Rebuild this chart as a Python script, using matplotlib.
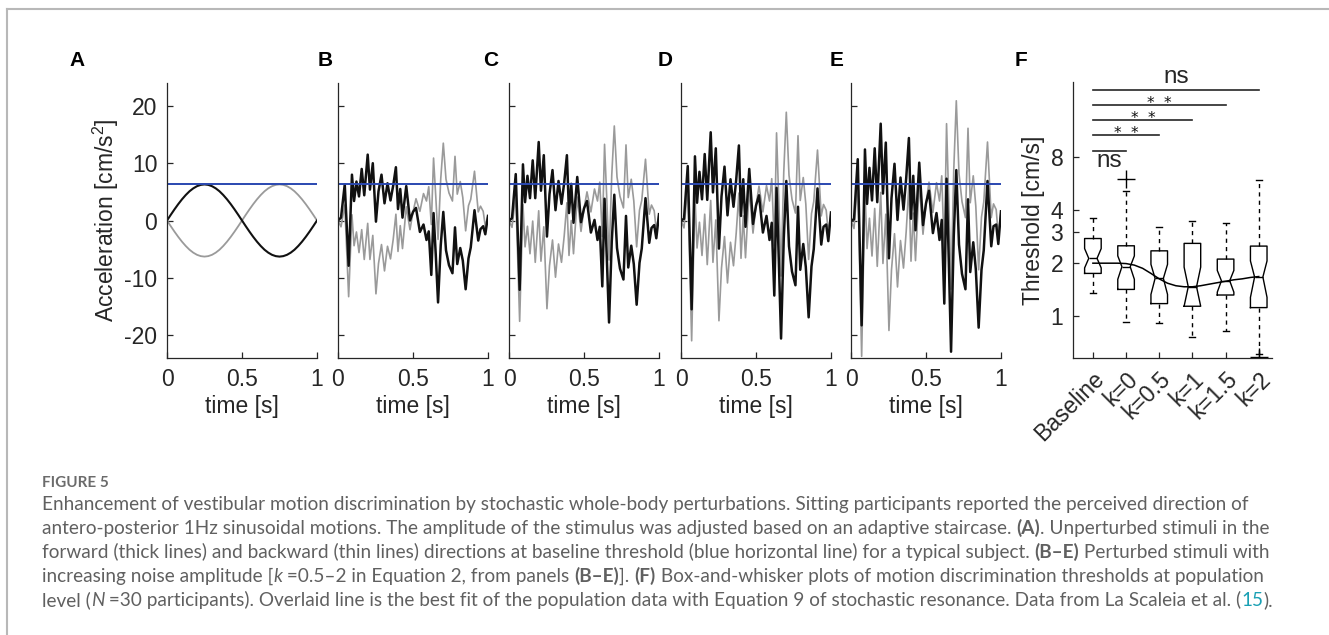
import numpy as np
import matplotlib
matplotlib.use('Agg')
import matplotlib.pyplot as plt
from matplotlib.lines import Line2D
from matplotlib.ticker import NullLocator

plt.rcParams['font.family'] = ['Liberation Sans', 'DejaVu Sans']
plt.rcParams['mathtext.fontset'] = 'custom'
plt.rcParams['mathtext.rm'] = 'Liberation Sans'
plt.rcParams['mathtext.default'] = 'regular'
plt.rcParams['axes.unicode_minus'] = False

# ---- data ----
threshold = 6.3

t_sine = np.linspace(0, 1, 41)
sine_fwd = [0, 0.99, 1.95, 2.86, 3.70, 4.45, 5.10, 5.61, 5.99, 6.22, 6.30, 6.22, 5.99, 5.61, 5.10, 4.45,
            3.70, 2.86, 1.95, 0.99, 0, -0.99, -1.95, -2.86, -3.70, -4.45, -5.10, -5.61, -5.99, -6.22,
            -6.30, -6.22, -5.99, -5.61, -5.10, -4.45, -3.70, -2.86, -1.95, -0.99, 0]
sine_bwd = [0, -0.99, -1.95, -2.86, -3.70, -4.45, -5.10, -5.61, -5.99, -6.22, -6.30, -6.22, -5.99, -5.61,
            -5.10, -4.45, -3.70, -2.86, -1.95, -0.99, 0, 0.99, 1.95, 2.86, 3.70, 4.45, 5.10, 5.61, 5.99,
            6.22, 6.30, 6.22, 5.99, 5.61, 5.10, 4.45, 3.70, 2.86, 1.95, 0.99, 0]

t_noise = [0, 0.02, 0.045, 0.071, 0.093, 0.107, 0.123, 0.14, 0.158, 0.175, 0.198, 0.213, 0.232, 0.253,
           0.27, 0.29, 0.31, 0.33, 0.35, 0.368, 0.386, 0.4, 0.415, 0.43, 0.455, 0.48, 0.5, 0.52, 0.546,
           0.57, 0.59, 0.605, 0.622, 0.637, 0.652, 0.667, 0.685, 0.702, 0.72, 0.74, 0.763, 0.78, 0.795,
           0.815, 0.832, 0.851, 0.87, 0.885, 0.91, 0.935, 0.95, 0.968, 0.982, 1.0]

fwd_B = [0, 0.5, 6.3, -7.9, 8.0, 3.4, 6.8, 4.2, 9.0, 4.4, 11.5, 5.4, 10.0, -0.2, 5.1, 8.0, 3.0, 6.5, 3.5,
         6.1, 9.3, 2.0, 5.5, 0.5, 6.0, 0.0, 1.5, 2.2, -2.0, -0.7, -3.4, -1.9, -9.5, 1.3, -6.1, -14.3, -4.3,
         1.5, -5.2, -7.8, -9.2, -1.2, -7.6, -4.8, -7.0, -12.0, -6.6, -4.7, 1.8, -3.5, -1.5, -1.0, -2.4, 0.8]
bwd_B = [0, -1.1, 2.7, -13.3, 1.0, -4.4, -2.0, -5.6, -1.6, -6.8, -0.5, -6.8, -2.6, -12.8, -7.5, -4.2, -8.8,
         -4.5, -6.7, -3.3, 1.1, -5.4, -0.9, -4.9, 2.4, -1.6, 1.5, 3.8, 1.6, 4.7, 3.4, 5.9, -0.7, 10.9, 4.1,
         -3.3, 7.3, 13.5, 7.2, 4.8, 3.4, 11.2, 4.6, 6.8, 4.0, -1.8, 2.6, 3.7, 8.6, 1.5, 2.5, 1.6, -1.0, 0.8]
fwd_C = [0, 0.4, 8.1, -12.1, 9.8, 3.2, 7.8, 3.9, 10.5, 3.9, 13.7, 5.2, 11.4, -2.8, 4.6, 8.8, 1.8, 6.9, 2.9,
         6.6, 11.4, 1.3, 6.4, -0.4, 7.6, -0.3, 2.1, 3.4, -2.1, 0.1, -3.4, -1.1, -11.5, 3.8, -6.5, -17.8,
         -3.7, 4.5, -4.8, -8.4, -10.3, 0.8, -8.2, -4.4, -7.6, -14.7, -7.4, -4.9, 3.9, -3.9, -1.3, -0.8, -3.1, 1.1]
bwd_C = [0, -1.2, 4.5, -17.6, 2.8, -4.6, -1.0, -5.8, -0.1, -7.3, 1.7, -7.1, -1.1, -15.4, -7.9, -3.4, -9.9,
         -4.1, -7.3, -2.7, 3.1, -6.1, 0.0, -5.8, 4.1, -1.9, 2.1, 5.0, 1.5, 5.5, 3.4, 6.7, -2.8, 13.3, 3.7,
         -6.9, 7.9, 16.5, 7.6, 4.2, 2.2, 13.2, 4.0, 7.2, 3.4, -4.6, 1.8, 3.5, 10.7, 1.1, 2.7, 1.7, -1.7, 1.1]
fwd_D = [0, 0.3, 9.5, -15.5, 11.2, 3.1, 8.5, 3.7, 11.6, 3.6, 15.4, 4.9, 12.6, -4.9, 4.2, 9.4, 0.9, 7.2, 2.4,
         7.1, 13.1, 0.8, 7.2, -1.1, 9.0, -0.6, 2.6, 4.4, -2.1, 0.8, -3.4, -0.4, -13.1, 5.7, -6.9, -20.6,
         -3.2, 6.9, -4.5, -8.9, -11.3, 2.4, -8.6, -4.1, -8.1, -16.9, -8.0, -5.0, 5.6, -4.2, -1.1, -0.7, -3.6, 1.4]
bwd_D = [0, -1.3, 6.0, -21.0, 4.3, -4.8, -0.3, -6.1, 1.1, -7.7, 3.5, -7.3, 0.1, -17.5, -8.3, -2.8, -10.9,
         -3.8, -7.9, -2.2, 4.8, -6.6, 0.8, -6.5, 5.5, -2.2, 2.6, 6.0, 1.5, 6.1, 3.4, 7.3, -4.4, 15.3, 3.4,
         -9.7, 8.4, 18.9, 7.9, 3.7, 1.3, 14.8, 3.5, 7.5, 2.9, -6.8, 1.2, 3.3, 12.3, 0.8, 2.8, 1.8, -2.2, 1.4]
fwd_E = [0, 0.2, 10.7, -18.3, 12.4, 2.9, 9.2, 3.5, 12.6, 3.2, 16.9, 4.7, 13.6, -6.6, 3.9, 9.9, 0.1, 7.5, 1.9,
         7.4, 14.4, 0.3, 7.8, -1.7, 10.1, -0.8, 3.0, 5.2, -2.2, 1.3, -3.4, 0.1, -14.5, 7.3, -7.1, -22.9,
         -2.8, 8.8, -4.2, -9.3, -12.0, 3.7, -9.0, -3.8, -8.5, -18.7, -8.6, -5.2, 6.9, -4.5, -1.0, -0.7, -4.1, 1.6]
bwd_E = [0, -1.4, 7.2, -23.7, 5.4, -4.9, 0.4, -6.2, 2.1, -8.0, 4.9, -7.5, 1.1, -19.2, -8.6, -2.3, -11.6,
         -3.5, -8.3, -1.9, 6.2, -7.1, 1.3, -7.0, 6.6, -2.4, 3.0, 6.7, 1.4, 6.6, 3.4, 7.8, -5.7, 16.9, 3.2,
         -12.0, 8.8, 20.9, 8.2, 3.3, 0.5, 16.1, 3.1, 7.8, 2.5, -8.6, 0.6, 3.2, 13.7, 0.5, 2.9, 1.9, -2.7, 1.6]

groups = ['Baseline', 'k=0', 'k=0.5', 'k=1', 'k=1.5', 'k=2']
q1 = [1.75, 1.42, 1.18, 1.14, 1.32, 1.12]
med = [2.13, 1.91, 1.64, 1.47, 1.59, 1.67]
q3 = [2.76, 2.51, 2.35, 2.59, 2.11, 2.50]
whis_lo = [1.35, 0.93, 0.92, 0.76, 0.82, 0.61]
whis_hi = [3.59, 5.15, 3.21, 3.46, 3.39, 5.92]
notch_lo = [1.88, 1.62, 1.33, 1.14, 1.37, 1.28]
notch_hi = [2.42, 2.20, 1.97, 1.90, 1.82, 2.06]
outliers = [[], [6.0], [], [], [], [0.59]]

fit_x = [1.0, 1.25, 1.5, 1.75, 2.0, 2.25, 2.5, 2.75, 3.0, 3.25, 3.5, 3.75, 4.0, 4.25, 4.5, 4.75, 5.0,
         5.25, 5.5, 5.75, 6.0]
fit_y = [2.0, 2.0, 2.0, 2.0, 1.99, 1.95, 1.87, 1.75, 1.63, 1.54, 1.49, 1.47, 1.47, 1.49, 1.52, 1.55,
         1.58, 1.61, 1.63, 1.66, 1.68]

sig_end = [2, 3, 4, 5, 6]
sig_y = [8.7, 10.6, 12.9, 15.7, 19.2]
sig_text = ['ns', '**', '**', '**', 'ns']

# ---- figure ----
W, H = 1329, 635
fig = plt.figure(figsize=(W / 100, H / 100), dpi=100)


def rect(l, t, r, b):
    return [l / W, 1 - b / H, (r - l) / W, (b - t) / H]


dark = '#262626'
fs = 16.5


def style(ax):
    for s in ['top', 'right']:
        ax.spines[s].set_visible(False)
    for s in ['left', 'bottom']:
        ax.spines[s].set_color(dark)
        ax.spines[s].set_linewidth(0.9)
    ax.tick_params(direction='in', length=4, width=0.9, colors=dark, labelsize=fs, pad=7)


lefts = [167, 338, 509, 681, 851]
fwd = [sine_fwd, fwd_B, fwd_C, fwd_D, fwd_E]
bwd = [sine_bwd, bwd_B, bwd_C, bwd_D, bwd_E]
for i in range(5):
    ax = fig.add_axes(rect(lefts[i], 83, lefts[i] + 150, 358))
    style(ax)
    tt = t_sine if i == 0 else t_noise
    if i == 0:
        ax.plot(tt, bwd[i], color='#9a9a9a', lw=1.3)
        ax.plot(tt, fwd[i], color='#111111', lw=1.5)
    else:
        ax.plot(tt, bwd[i], color='#9a9a9a', lw=1.2)
        ax.plot(tt, fwd[i], color='#111111', lw=1.8)
    ax.axhline(threshold, color='#2a48b0', lw=1.4)
    ax.set_xlim(0, 1)
    ax.set_ylim(-24, 24)
    ax.set_xticks([0, 0.5, 1])
    ax.set_xticklabels(['0', '0.5', '1'])
    ax.set_yticks([-20, -10, 0, 10, 20])
    if i == 0:
        ax.set_ylabel('Acceleration [cm/s$^2$]', fontsize=fs, color=dark, labelpad=2)
    else:
        ax.set_yticklabels([])
    ax.set_xlabel('time [s]', fontsize=fs, color=dark, labelpad=3)

ax6 = fig.add_axes(rect(1073, 82, 1272, 358))
style(ax6)
ax6.set_yscale('log')
stats = []
for i in range(6):
    stats.append(dict(med=med[i], q1=q1[i], q3=q3[i], whislo=whis_lo[i], whishi=whis_hi[i],
                      cilo=notch_lo[i], cihi=notch_hi[i], fliers=outliers[i], label=groups[i]))
pos = list(range(1, 7))
ax6.bxp(stats, positions=pos, widths=0.5, shownotches=True, capwidths=0.18,
        boxprops=dict(color='k', lw=1.0),
        whiskerprops=dict(color='k', lw=1.0, ls=(0, (3, 3))),
        capprops=dict(color='k', lw=1.0),
        medianprops=dict(color='k', lw=1.0),
        flierprops=dict(marker='+', markeredgecolor='k', markersize=13, mew=1.0))
ax6.plot(fit_x, fit_y, color='k', lw=1.1)
for j in range(5):
    xc = (1 + sig_end[j]) / 2
    ax6.plot([1, sig_end[j]], [sig_y[j]] * 2, color=dark, lw=1.2, clip_on=False)
    if sig_text[j] == '**':
        # two asterisks just above their bar
        for dx in (-8.5, 8.5):
            ax6.annotate('*', (xc, sig_y[j]), xytext=(dx, -2.5), textcoords='offset pixels',
                         ha='center', va='baseline', fontsize=11, family='DejaVu Sans',
                         color='#111111', annotation_clip=False)
    elif j == 0:
        ax6.annotate(sig_text[j], (xc, sig_y[j]), xytext=(0, -16), textcoords='offset pixels',
                     ha='center', va='baseline', fontsize=fs + 1, color=dark, annotation_clip=False)
    else:
        ax6.annotate(sig_text[j], (xc, sig_y[j]), xytext=(0, 7), textcoords='offset pixels',
                     ha='center', va='baseline', fontsize=fs + 1, color=dark, annotation_clip=False)
ax6.set_xlim(0.4, 6.4)
ax6.set_ylim(0.58, 21.3)
ax6.set_yticks([1, 2, 3, 4, 8])
ax6.set_yticklabels(['1', '2', '3', '4', '8'])
ax6.yaxis.set_minor_locator(NullLocator())
ax6.set_xticks(pos)
ax6.set_xticklabels(groups, rotation=45, ha='right', rotation_mode='anchor')
ax6.set_ylabel('Threshold [cm/s]', fontsize=fs, color=dark, labelpad=4)

letters = ['A', 'B', 'C', 'D', 'E', 'F']
letter_x = [77, 325, 491, 665, 837, 1021]
for k in range(6):
    fig.text(letter_x[k] / W, 1 - 60 / H, letters[k], fontsize=15, fontweight='bold',
             ha='center', va='center', color='k')

# frame of the page
fig.add_artist(Line2D([7 / W, 1], [1 - 9 / H, 1 - 9 / H], color='#b8b8b8', lw=1.5))
fig.add_artist(Line2D([7 / W, 7 / W], [0, 1 - 9 / H], color='#b8b8b8', lw=1.5))

# ---- caption ----
renderer = fig.canvas.get_renderer()
gray = '#606060'
base = dict(family='Lato', size=13.65, color=gray)
bold = dict(base, weight='bold')
ital = dict(base, style='italic')
link = dict(base, color='#1aa0b4')


def text_w(s, kw):
    tmp = fig.text(0, 0, s, **kw)
    w = tmp.get_window_extent(renderer).width
    tmp.remove()
    return w


def rich_line(x, y, parts):
    for s, kw in parts:
        fig.text(x / W, 1 - y / H, s, ha='left', va='baseline', **kw)
        x += text_w(s + '|', kw) - text_w('|', kw)


fig.text(42 / W, 1 - 487 / H, 'FIGURE 5', family='Lato', size=11, weight='bold', color='#6b6b6b',
         ha='left', va='baseline')
lines = [
    [('Enhancement of vestibular motion discrimination by stochastic whole-body perturbations. '
      'Sitting participants reported the perceived direction of', base)],
    [('antero-posterior 1Hz sinusoidal motions. The amplitude of the stimulus was adjusted based on '
      'an adaptive staircase. ', base), ('(A)', bold), ('. Unperturbed stimuli in the', base)],
    [('forward (thick lines) and backward (thin lines) directions at baseline threshold (blue horizontal '
      'line) for a typical subject. ', base), ('(B\u2013E)', bold), (' Perturbed stimuli with', base)],
    [('increasing noise amplitude [', base), ('k', ital), (' =0.5\u20132 in Equation 2, from panels ', base),
     ('(B\u2013E)', bold), (']. ', base), ('(F)', bold),
     (' Box-and-whisker plots of motion discrimination thresholds at population', base)],
    [('level (', base), ('N', ital), (' =30 participants). Overlaid line is the best fit of the population '
      'data with Equation 9 of stochastic resonance. Data from La Scaleia et al. (', base),
     ('15', link), (').', base)],
]
line_y = [510, 534, 558, 582, 606]
for ln, yy in zip(lines, line_y):
    rich_line(42, yy, ln)

fig.savefig('out.png', dpi=100)
